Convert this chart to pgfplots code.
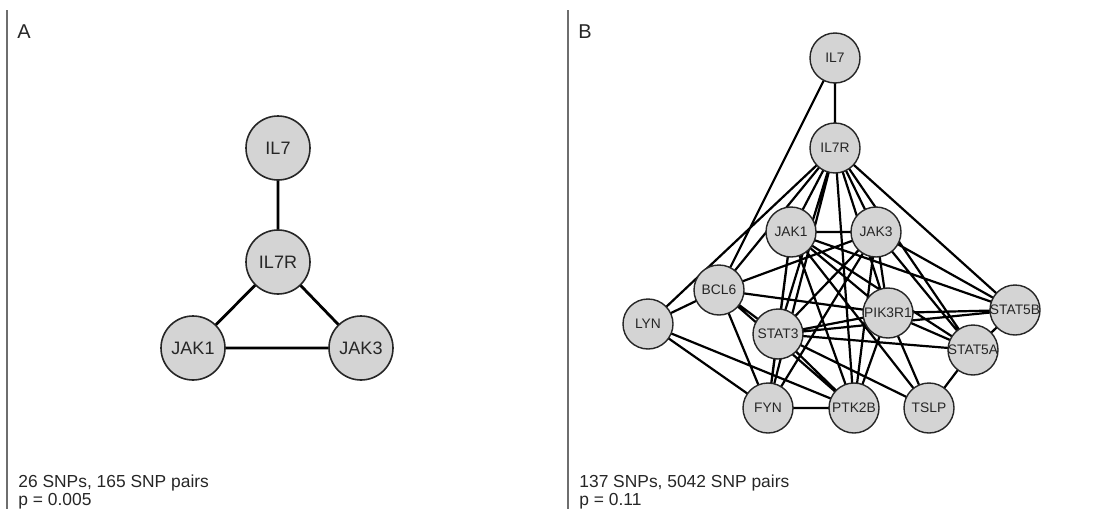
\documentclass[border=0pt]{standalone}
\usepackage{pgfplots}
\usepackage{pgfplotstable}
\pgfplotsset{compat=1.18}
\usepackage{fontspec}
\setmainfont{Liberation Sans}
\definecolor{nodefill}{RGB}{212,212,212}
\definecolor{divider}{RGB}{110,110,110}
\pgfplotstableread{
x y label
278 148 IL7
278 262 IL7R
193 348 JAK1
361 348 JAK3
}\nodesA
\pgfplotstableread{
x y label
835 58 IL7
835 148 IL7R
791 232 JAK1
876 232 JAK3
719 290 BCL6
648 324 LYN
778 334 STAT3
888 313 PIK3R1
1015 310 STAT5B
973 350 STAT5A
768 408 FYN
854 408 PTK2B
929 408 TSLP
}\nodesB
\begin{document}
\begin{tikzpicture}
\begin{axis}[
  scale only axis, width=555pt, height=254.5pt,
  xmin=0, xmax=1110, ymin=0, ymax=509, y dir=reverse,
  hide axis, clip=false, unbounded coords=jump,
]
% dividers
\addplot[divider, line width=0.7pt] coordinates {(7,10) (7,509)};
\addplot[divider, line width=0.7pt] coordinates {(568,10) (568,509)};
% edges A
\addplot[black, line width=1.4pt] coordinates {
(278,148) (278,262) (nan,nan)
(278,262) (193,348) (nan,nan)
(278,262) (361,348) (nan,nan)
(193,348) (361,348)
};
% edges B
\addplot[black, line width=1.1pt] coordinates {
(835,58) (835,148) (nan,nan)
(835,58) (719,290) (nan,nan)
(835,148) (791,232) (nan,nan)
(835,148) (876,232) (nan,nan)
(835,148) (719,290) (nan,nan)
(835,148) (648,324) (nan,nan)
(835,148) (778,334) (nan,nan)
(835,148) (888,313) (nan,nan)
(835,148) (1015,310) (nan,nan)
(835,148) (973,350) (nan,nan)
(835,148) (854,408) (nan,nan)
(835,148) (768,408) (nan,nan)
(791,232) (876,232) (nan,nan)
(791,232) (778,334) (nan,nan)
(791,232) (888,313) (nan,nan)
(791,232) (973,350) (nan,nan)
(791,232) (1015,310) (nan,nan)
(791,232) (854,408) (nan,nan)
(791,232) (768,408) (nan,nan)
(791,232) (929,408) (nan,nan)
(876,232) (778,334) (nan,nan)
(876,232) (888,313) (nan,nan)
(876,232) (973,350) (nan,nan)
(876,232) (1015,310) (nan,nan)
(876,232) (854,408) (nan,nan)
(876,232) (719,290) (nan,nan)
(876,232) (768,408) (nan,nan)
(719,290) (648,324) (nan,nan)
(719,290) (778,334) (nan,nan)
(719,290) (768,408) (nan,nan)
(719,290) (854,408) (nan,nan)
(719,290) (888,313) (nan,nan)
(648,324) (768,408) (nan,nan)
(648,324) (854,408) (nan,nan)
(778,334) (888,313) (nan,nan)
(778,334) (973,350) (nan,nan)
(778,334) (1015,310) (nan,nan)
(778,334) (854,408) (nan,nan)
(778,334) (768,408) (nan,nan)
(778,334) (929,408) (nan,nan)
(888,313) (1015,310) (nan,nan)
(888,313) (973,350) (nan,nan)
(888,313) (854,408) (nan,nan)
(888,313) (929,408) (nan,nan)
(973,350) (1015,310) (nan,nan)
(973,350) (929,408) (nan,nan)
(768,408) (854,408)
};
% nodes A
\addplot[only marks, mark=*, mark size=16pt,
  mark options={fill=nodefill, draw=black!85, line width=0.8pt},
  nodes near coords, point meta=explicit symbolic,
  every node near coord/.append style={anchor=center, font=\fontsize{9}{10}\selectfont, text=black!85}]
  table[meta=label] {\nodesA};
% nodes B
\addplot[only marks, mark=*, mark size=12.5pt,
  mark options={fill=nodefill, draw=black!85, line width=0.7pt},
  nodes near coords, point meta=explicit symbolic,
  every node near coord/.append style={anchor=center, font=\fontsize{6.9}{8}\selectfont, text=black!85, inner sep=0pt}]
  table[meta=label] {\nodesB};
% panel texts
\node[anchor=base west, font=\fontsize{10}{11}\selectfont, text=black!85, inner sep=0pt] at (axis cs:17,38) {A};
\node[anchor=base west, font=\fontsize{10}{11}\selectfont, text=black!85, inner sep=0pt] at (axis cs:578,38) {B};
\node[anchor=base west, font=\fontsize{8.7}{10}\selectfont, text=black!85, inner sep=0pt] at (axis cs:18,487) {26 SNPs, 165 SNP pairs};
\node[anchor=base west, font=\fontsize{8.7}{10}\selectfont, text=black!85, inner sep=0pt] at (axis cs:18,505) {p = 0.005};
\node[anchor=base west, font=\fontsize{8.7}{10}\selectfont, text=black!85, inner sep=0pt] at (axis cs:579,487) {137 SNPs, 5042 SNP pairs};
\node[anchor=base west, font=\fontsize{8.7}{10}\selectfont, text=black!85, inner sep=0pt] at (axis cs:579,505) {p = 0.11};
\end{axis}
\pgfresetboundingbox
\path[use as bounding box] (current axis.south west) rectangle (current axis.north east);
\end{tikzpicture}
\end{document}
